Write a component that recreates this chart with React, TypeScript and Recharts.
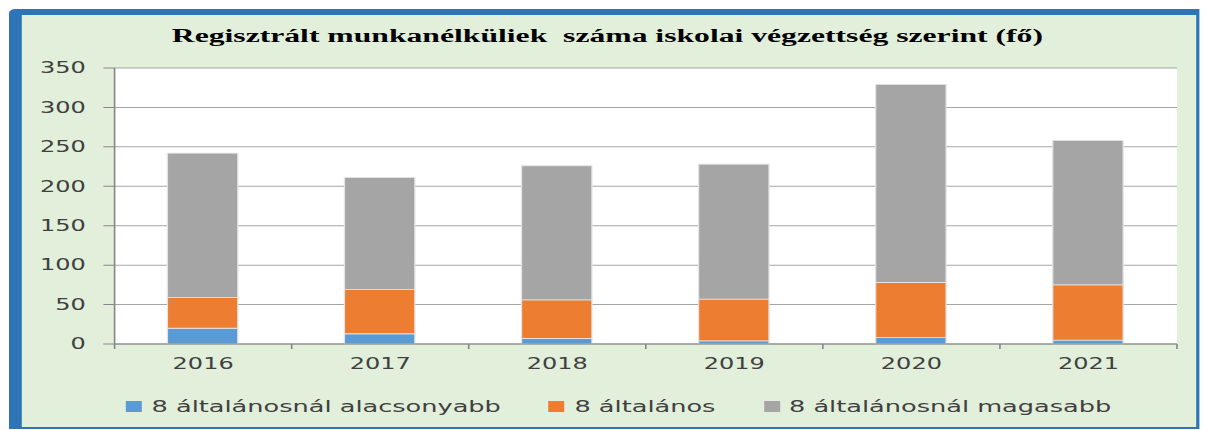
import { Bar, BarChart, CartesianGrid, Legend, XAxis, YAxis } from "recharts"

const years = ["2016", "2017", "2018", "2019", "2020", "2021"]
const belowEight = [20, 13, 7, 4, 8, 5]
const eightGrade = [39, 56, 49, 53, 70, 70]
const aboveEight = [183, 142, 170, 171, 251, 183]

const yTicks = [0, 50, 100, 150, 200, 250, 300, 350]

const seriesNames = ["8 általánosnál alacsonyabb", "8 általános", "8 általánosnál magasabb"]
const seriesColors = ["#5b9bd5", "#ed7d31", "#a5a5a5"]

const title = "Regisztrált munkanélküliek  száma iskolai végzettség szerint (fő)"

const data = years.map((year, i) => ({
  year,
  below: belowEight[i],
  eight: eightGrade[i],
  above: aboveEight[i],
}))

// the original picture is stretched sideways, so the whole frame is drawn narrow and scaled
const STRETCH = 1.6
const axisGray = "#868686"
const textGray = "#404040"

// year label plus Excel-style tick marks on the category borders
function YearTick(props: any) {
  const { x, y, payload, index, visibleTicksCount, width } = props
  const half = typeof width === "number" && visibleTicksCount ? width / visibleTicksCount / 2 : 0
  return (
    <g>
      {half > 0 && <line x1={x - half} x2={x - half} y1={y} y2={y + 5} stroke={axisGray} />}
      {half > 0 && index === visibleTicksCount - 1 && <line x1={x + half} x2={x + half} y1={y} y2={y + 5} stroke={axisGray} />}
      <text x={x} y={y + 14} dy="0.71em" textAnchor="middle" fontSize={15} fill={textGray} fontFamily="DejaVu Sans">
        {payload.value}
      </text>
    </g>
  )
}

function LegendRow() {
  return (
    <div
      style={{
        height: 35,
        display: "flex",
        alignItems: "flex-end",
        justifyContent: "center",
        paddingLeft: 24,
        paddingBottom: 4,
        boxSizing: "border-box",
        fontFamily: "DejaVu Sans",
        fontSize: 16,
        color: textGray,
        whiteSpace: "pre",
      }}
    >
      {seriesNames.map((name, i) => (
        <div key={name} style={{ display: "flex", alignItems: "center", marginLeft: i === 0 ? 0 : 30, height: 18 }}>
          <span style={{ display: "inline-block", width: 10, height: 11, background: seriesColors[i], marginRight: 6 }} />
          <span>{name}</span>
        </div>
      ))}
    </div>
  )
}

export default function App() {
  return (
    <div
      style={{
        position: "absolute",
        left: 9,
        top: 9,
        width: 744,
        height: 420,
        boxSizing: "border-box",
        borderLeft: "8px solid #2e75b6",
        borderTop: "6px solid #2e75b6",
        borderRight: "2px solid #2e75b6",
        borderBottom: "2px solid #2e75b6",
        borderTopLeftRadius: 4,
        background: "#e2efda",
        transform: `scaleX(${STRETCH})`,
        transformOrigin: "0 0",
      }}
    >
      <div
        style={{
          position: "absolute",
          left: -2,
          right: 0,
          top: 10,
          textAlign: "center",
          fontFamily: "Liberation Serif",
          fontWeight: "bold",
          fontSize: 19.8,
          lineHeight: "21px",
          color: "#000",
          whiteSpace: "pre",
        }}
      >
        {title}
      </div>
      <BarChart width={734} height={412} data={data} margin={{ top: 53, right: 12, left: 0, bottom: 8 }} barSize={44}>
        <CartesianGrid vertical={false} stroke="#a6a6a6" fill="#ffffff" />
        <XAxis
          dataKey="year"
          height={40}
          tickLine={false}
          tickSize={0}
          tickMargin={0}
          axisLine={{ stroke: axisGray }}
          tick={YearTick}
        />
        <YAxis
          width={58}
          domain={[0, 350]}
          ticks={yTicks}
          tickSize={7}
          tickMargin={11}
          axisLine={{ stroke: axisGray }}
          tickLine={{ stroke: axisGray }}
          tick={{ fontSize: 15, fill: textGray, fontFamily: "DejaVu Sans" }}
        />
        <Legend verticalAlign="bottom" height={35} content={() => <LegendRow />} />
        <Bar dataKey="below" name={seriesNames[0]} stackId="a" fill={seriesColors[0]} stroke="#e3e3e3" strokeWidth={0.8} isAnimationActive={false} />
        <Bar dataKey="eight" name={seriesNames[1]} stackId="a" fill={seriesColors[1]} stroke="#e3e3e3" strokeWidth={0.8} isAnimationActive={false} />
        <Bar dataKey="above" name={seriesNames[2]} stackId="a" fill={seriesColors[2]} stroke="#e3e3e3" strokeWidth={0.8} isAnimationActive={false} />
      </BarChart>
    </div>
  )
}
